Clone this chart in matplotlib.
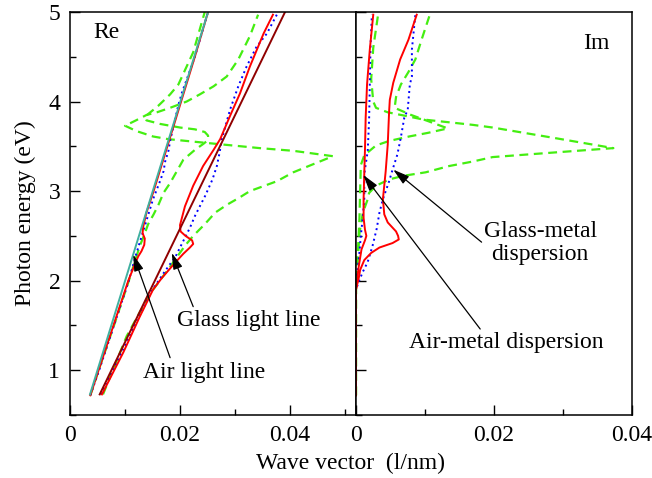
import matplotlib
matplotlib.use("Agg")
import matplotlib.pyplot as plt
from matplotlib.ticker import MultipleLocator

plt.rcParams['font.family'] = ['Liberation Serif', 'DejaVu Serif']

# ------------------------
# Data: photon energy in eV, wave vector in 1/nm
# ------------------------

# light lines (Re panel)
air_line_e = [0.73, 5.0]
air_line_k = [0.00364, 0.0251]
glass_line_e = [0.73, 5.0]
glass_line_k = [0.0054, 0.0391]

# Re, air-metal
re_air_red_e = [0.72, 1.0, 1.5, 2.0, 2.2, 2.27, 2.33, 2.40, 2.47, 2.53, 2.6, 2.76, 3.0, 3.5, 4.0, 4.5, 5.0]
re_air_red_k = [0.0037, 0.0052, 0.0079, 0.0106, 0.0119, 0.0124, 0.0130, 0.0135, 0.0136, 0.0132, 0.0133,
                0.0139, 0.0152, 0.0177, 0.0202, 0.0227, 0.0251]
re_air_blue_e = [0.72, 1.0, 1.5, 2.0, 2.27, 2.43, 2.61, 2.91, 3.10, 3.22, 3.33, 3.45, 3.56, 3.80, 3.96, 4.09,
                 4.5, 5.0]
re_air_blue_k = [0.0037, 0.0053, 0.0080, 0.0107, 0.0119, 0.0127, 0.0136, 0.0151, 0.0163, 0.0170, 0.0173,
                 0.0179, 0.0182, 0.0191, 0.0197, 0.0203, 0.0227, 0.0251]
re_air_green_e = [0.72, 1.0, 1.5, 2.0, 2.39, 2.48, 2.63, 2.74, 2.85, 2.98, 3.09, 3.22, 3.35, 3.46, 3.53, 3.57,
                  3.62, 3.66, 3.69, 3.71, 3.75, 3.79, 3.83, 3.90, 3.95, 4.08, 4.19, 4.55, 5.0]
re_air_green_k = [0.0037, 0.0052, 0.0080, 0.0107, 0.0127, 0.0133, 0.0142, 0.0152, 0.0161, 0.0170, 0.0182,
                  0.0194, 0.0206, 0.0227, 0.0243, 0.0251, 0.0251, 0.0245, 0.0227, 0.0200, 0.0164, 0.0139,
                  0.0136, 0.0150, 0.0160, 0.0182, 0.0197, 0.0224, 0.0245]

# Re, glass-metal
re_glass_red_e = [0.73, 1.2, 1.6, 1.9, 2.03, 2.2, 2.3, 2.37, 2.41, 2.45, 2.5, 2.55, 2.62, 2.83, 3.06, 3.28,
                  3.46, 3.58, 3.84, 4.09, 4.39, 4.76, 4.97]
re_glass_red_k = [0.0058, 0.0097, 0.0127, 0.0151, 0.0167, 0.0191, 0.0206, 0.0218, 0.0224, 0.0222, 0.0210,
                  0.0201, 0.0200, 0.0209, 0.0224, 0.0242, 0.0261, 0.0273, 0.0291, 0.0309, 0.0327, 0.0352,
                  0.0369]
re_glass_blue_e = [0.73, 1.2, 1.6, 1.9, 2.1, 2.27, 2.37, 2.48, 2.59, 2.72, 2.83, 2.95, 3.13, 3.28, 3.43, 3.58,
                   3.91, 4.17, 4.39, 4.61, 4.76, 4.97]
re_glass_blue_k = [0.0056, 0.0094, 0.0126, 0.0150, 0.0172, 0.0192, 0.0200, 0.0209, 0.0218, 0.0227, 0.0236,
                   0.0246, 0.0259, 0.0267, 0.0272, 0.0276, 0.0291, 0.0306, 0.0321, 0.0339, 0.0358, 0.0376]
re_glass_green_e = [0.73, 1.38, 1.85, 2.13, 2.39, 2.50, 2.63, 2.76, 2.85, 2.92, 3.0, 3.11, 3.21, 3.30, 3.39,
                    3.45, 3.48, 3.51, 3.54, 3.56, 3.58, 3.61, 3.67, 3.73, 3.79, 3.85, 3.88, 3.93, 4.0, 4.08,
                    4.17, 4.28, 4.47, 4.73, 4.97]
re_glass_green_k = [0.0060, 0.0103, 0.0145, 0.0179, 0.0209, 0.0224, 0.0245, 0.0264, 0.0286, 0.0306, 0.0327,
                    0.0376, 0.0406, 0.0442, 0.0478, 0.0406, 0.0345, 0.0295, 0.0245, 0.0212, 0.0179, 0.0151,
                    0.0121, 0.0100, 0.0120, 0.0139, 0.0158, 0.0182, 0.0212, 0.0236, 0.0261, 0.0285, 0.0306,
                    0.0327, 0.0342]

# Im, air-metal
im_air_red_e = [0.72, 1.9, 2.03, 2.16, 2.35, 2.45, 2.50, 2.57, 2.7, 2.91, 3.2, 3.46, 3.82, 4.19, 4.58, 4.97]
im_air_red_k = [0.0, 0.0, 0.0002, 0.0004, 0.0008, 0.0013, 0.0015, 0.0013, 0.0011, 0.0011, 0.0012, 0.0013,
                0.0014, 0.0016, 0.0020, 0.0025]
im_air_blue_e = [0.72, 1.9, 2.10, 2.32, 2.50, 2.72, 2.91, 3.19, 3.45, 3.8, 4.19, 4.6, 4.97]
im_air_blue_k = [0.0, 0.0, 0.0002, 0.0005, 0.0007, 0.0010, 0.0012, 0.0012, 0.0017, 0.0019, 0.0020, 0.0021,
                 0.0023]
im_air_green_e = [0.72, 2.2, 2.35, 2.7, 3.0, 3.29, 3.40, 3.51, 3.56, 3.61, 3.65, 3.70, 3.78, 3.85, 3.93, 4.05,
                  4.19, 4.33, 4.47, 4.69, 4.97]
im_air_green_k = [0.0, 0.0, 0.0003, 0.0005, 0.0006, 0.0007, 0.0012, 0.0029, 0.0048, 0.0077, 0.0104, 0.0133,
                  0.0105, 0.0080, 0.0056, 0.0058, 0.0065, 0.0076, 0.0086, 0.0095, 0.0107]

# Im, glass-metal
im_glass_red_e = [0.72, 1.9, 2.03, 2.12, 2.23, 2.31, 2.37, 2.42, 2.46, 2.50, 2.55, 2.65, 2.74, 2.91, 3.22,
                  3.52, 3.89, 4.02, 4.21, 4.47, 4.69, 4.97]
im_glass_red_k = [0.0, 0.0, 0.0004, 0.0006, 0.0012, 0.0022, 0.0034, 0.0053, 0.0062, 0.0061, 0.0058, 0.0046,
                  0.0041, 0.0039, 0.0043, 0.0046, 0.0048, 0.0049, 0.0054, 0.0064, 0.0076, 0.0088]
im_glass_blue_e = [0.72, 1.9, 1.99, 2.10, 2.21, 2.39, 2.58, 2.76, 2.91, 3.11, 3.24, 3.41, 3.60, 3.82, 3.91,
                   4.19, 4.28, 4.58, 4.97]
im_glass_blue_k = [0.0, 0.0, 0.0004, 0.0010, 0.0017, 0.0024, 0.0030, 0.0034, 0.0039, 0.0048, 0.0053, 0.0060,
                   0.0065, 0.0070, 0.0075, 0.0078, 0.0081, 0.0081, 0.0086]
im_glass_green_e = [0.72, 2.0, 2.16, 2.53, 2.76, 2.91, 2.98, 3.06, 3.13, 3.17, 3.21, 3.28, 3.33, 3.38, 3.43,
                    3.48, 3.59, 3.71, 3.74, 3.76, 3.78, 3.80, 3.84, 3.88, 3.93, 4.0, 4.25, 4.6, 4.97]
im_glass_green_k = [0.0, 0.0, 0.0002, 0.0005, 0.0010, 0.0017, 0.0019, 0.0029, 0.0048, 0.0068, 0.0101, 0.0135,
                    0.0169, 0.0198, 0.0285, 0.0373, 0.0290, 0.0198, 0.0169, 0.0145, 0.0121, 0.0097, 0.0072,
                    0.0046, 0.0029, 0.0025, 0.0022, 0.0025, 0.0032]

# ticks
re_xticks = [0, 0.02, 0.04]
im_xticks = [0, 0.02, 0.04]
xtick_labels = ["0", "0.02", "0.04"]
yticks = [1, 2, 3, 4, 5]

# ------------------------
# Styles
# ------------------------
RED = "#ff0000"
MAROON = "#900000"
TEAL = "#40b0a0"
BLUE = "#0000ff"
GREEN = "#44ee11"
FS = 17

solid = dict(color=RED, lw=1.4, ls="-")
dotted = dict(color=BLUE, lw=1.4, ls=(0, (1, 1.8)))
dashed = dict(color=GREEN, lw=1.6, ls=(0, (4, 2.5)))
arrow = dict(arrowstyle="-|>,head_length=0.55,head_width=0.16", color="k", lw=0.9,
             mutation_scale=18, shrinkA=0, shrinkB=0)

fig = plt.figure(figsize=(6.52, 4.78), dpi=100)
ax_re = fig.add_axes([70 / 652, 63 / 478, 286 / 652, 403 / 478])
ax_im = fig.add_axes([356 / 652, 63 / 478, 276 / 652, 403 / 478])

# ------------------------
# Re panel
# ------------------------
ax_re.plot(re_glass_green_k, re_glass_green_e, **dashed)
ax_re.plot(re_air_green_k, re_air_green_e, **dashed)
ax_re.plot(re_glass_blue_k, re_glass_blue_e, **dotted)
ax_re.plot(re_air_blue_k, re_air_blue_e, **dotted)
ax_re.plot(re_glass_red_k, re_glass_red_e, **solid)
ax_re.plot(re_air_red_k, re_air_red_e, **solid)
ax_re.plot(glass_line_k, glass_line_e, color=MAROON, lw=1.4)
ax_re.plot(air_line_k, air_line_e, color=TEAL, lw=1.4)

ax_re.annotate("", xy=(0.0185, 2.31), xytext=(0.0224, 1.71), arrowprops=arrow)
ax_re.annotate("", xy=(0.0115, 2.29), xytext=(0.0182, 1.14), arrowprops=arrow)
ax_re.text(0.0195, 1.55, "Glass light line", fontsize=FS, ha="left", va="center")
ax_re.text(0.0133, 0.98, "Air light line", fontsize=FS, ha="left", va="center")
ax_re.text(0.08, 0.948, "Re", fontsize=FS, transform=ax_re.transAxes, ha="left", va="center")

ax_re.set_xlim(0, 0.052)
ax_re.set_xticks(re_xticks, xtick_labels)
ax_re.xaxis.set_minor_locator(MultipleLocator(0.01))

# ------------------------
# Im panel
# ------------------------
ax_im.plot(im_glass_green_k, im_glass_green_e, **dashed)
ax_im.plot(im_air_green_k, im_air_green_e, **dashed)
ax_im.plot(im_glass_blue_k, im_glass_blue_e, **dotted)
ax_im.plot(im_air_blue_k, im_air_blue_e, **dotted)
ax_im.plot(im_glass_red_k, im_glass_red_e, **solid)
ax_im.plot(im_air_red_k, im_air_red_e, **solid)

ax_im.annotate("", xy=(0.0054, 3.24), xytext=(0.0182, 2.43), arrowprops=arrow)
ax_im.annotate("", xy=(0.00106, 3.18), xytext=(0.0180, 1.46), arrowprops=arrow)
ax_im.text(0.0267, 2.42, "Glass-metal\ndispersion", fontsize=FS, ha="center", va="center",
           multialignment="center", linespacing=1.15)
ax_im.text(0.0218, 1.31, "Air-metal dispersion", fontsize=FS, ha="center", va="center")
ax_im.text(0.92, 0.923, "Im", fontsize=FS, transform=ax_im.transAxes, ha="right", va="center")

ax_im.set_xlim(0, 0.04)
ax_im.set_xticks(im_xticks, xtick_labels)
ax_im.xaxis.set_minor_locator(MultipleLocator(0.01))

for ax in (ax_re, ax_im):
    ax.set_ylim(0.5, 5.0)
    ax.set_yticks(yticks)
    ax.yaxis.set_minor_locator(MultipleLocator(0.5))
    ax.tick_params(which="both", direction="in", labelsize=FS, width=1.0)
    ax.tick_params(which="major", length=7, pad=7)
    ax.tick_params(which="minor", length=4)
    for spine in ax.spines.values():
        spine.set_linewidth(1.1)

ax_im.tick_params(axis="y", which="both", labelleft=False)

fig.text(25 / 652, 1 - 213 / 478, "Photon energy (eV)", fontsize=FS, rotation=90,
         ha="center", va="center")
fig.text(350 / 652, 1 - 463 / 478, "Wave vector  (l/nm)", fontsize=FS, ha="center", va="center")

fig.savefig("out.png", dpi=100)
